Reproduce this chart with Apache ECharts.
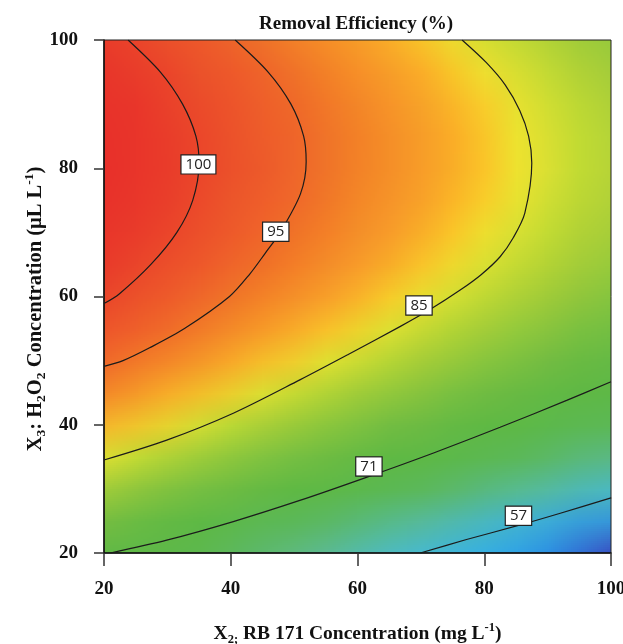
<!DOCTYPE html>
<html>
<head>
<meta charset="utf-8">
<script src="https://cdn.jsdelivr.net/npm/echarts@6/dist/echarts.min.js"></script>
<style>
  html, body { margin: 0; padding: 0; background: #fff; }
  #stage { position: relative; width: 623px; height: 644px; overflow: hidden; }
  #surfaceClip { position: absolute; overflow: hidden; }
  #surface { position: absolute; transform-origin: 0 0; }
  #chart { position: absolute; left: 0; top: 0; width: 623px; height: 644px; }
</style>
</head>
<body>
<div id="stage">
  <div id="surfaceClip"><div id="surface"></div></div>
  <div id="chart"></div>
</div>
<script>
  // X2: RB 171 concentration (mg/L), X3: H2O2 concentration (uL/L)
  const x2Levels = [20, 25, 30, 35, 40, 45, 50, 55, 60, 65, 70, 75, 80, 85, 90, 95, 100];
  const x3Levels = [20, 25, 30, 35, 40, 45, 50, 55, 60, 65, 70, 75, 80, 85, 90, 95, 100];
  const axisTicks = [20, 40, 60, 80, 100];

  // removal efficiency (%), one row per X3 level (bottom -> top)
  const efficiency = [
    [70.9, 69.4, 67.9, 66.4, 64.9, 63.4, 62.0, 60.5, 59.1, 57.7, 56.3, 54.9, 53.5, 52.1, 50.8, 49.4, 48.1],
    [76.2, 74.7, 73.2, 71.7, 70.2, 68.7, 67.3, 65.8, 64.4, 63.0, 61.6, 60.2, 58.8, 57.4, 56.1, 54.7, 53.4],
    [81.0, 79.5, 78.0, 76.5, 75.0, 73.5, 72.1, 70.6, 69.2, 67.8, 66.4, 65.0, 63.6, 62.2, 60.9, 59.5, 58.2],
    [85.3, 83.8, 82.3, 80.8, 79.3, 77.8, 76.4, 74.9, 73.5, 72.1, 70.7, 69.3, 67.9, 66.5, 65.2, 63.8, 62.5],
    [89.2, 87.7, 86.2, 84.7, 83.2, 81.7, 80.3, 78.8, 77.4, 76.0, 74.6, 73.2, 71.8, 70.4, 69.1, 67.7, 66.4],
    [92.7, 91.2, 89.7, 88.2, 86.7, 85.2, 83.8, 82.3, 80.9, 79.5, 78.1, 76.7, 75.3, 73.9, 72.6, 71.2, 69.9],
    [95.7, 94.2, 92.7, 91.2, 89.7, 88.2, 86.8, 85.3, 83.9, 82.5, 81.1, 79.7, 78.3, 76.9, 75.6, 74.2, 72.9],
    [98.2, 96.7, 95.2, 93.7, 92.2, 90.7, 89.3, 87.8, 86.4, 85.0, 83.6, 82.2, 80.8, 79.4, 78.1, 76.7, 75.4],
    [100.3, 98.8, 97.3, 95.8, 94.3, 92.8, 91.4, 89.9, 88.5, 87.1, 85.7, 84.3, 82.9, 81.5, 80.2, 78.8, 77.5],
    [102.0, 100.5, 99.0, 97.5, 96.0, 94.5, 93.1, 91.6, 90.2, 88.8, 87.4, 86.0, 84.6, 83.2, 81.9, 80.5, 79.2],
    [103.1, 101.6, 100.1, 98.6, 97.1, 95.6, 94.2, 92.7, 91.3, 89.9, 88.5, 87.1, 85.7, 84.3, 83.0, 81.6, 80.3],
    [103.9, 102.4, 100.9, 99.4, 97.9, 96.4, 95.0, 93.5, 92.1, 90.7, 89.3, 87.9, 86.5, 85.1, 83.8, 82.4, 81.1],
    [104.2, 102.7, 101.2, 99.7, 98.2, 96.7, 95.3, 93.8, 92.4, 91.0, 89.6, 88.2, 86.8, 85.4, 84.1, 82.7, 81.4],
    [104.0, 102.5, 101.0, 99.5, 98.0, 96.5, 95.1, 93.6, 92.2, 90.8, 89.4, 88.0, 86.6, 85.2, 83.9, 82.5, 81.2],
    [103.4, 101.9, 100.4, 98.9, 97.4, 95.9, 94.5, 93.0, 91.6, 90.2, 88.8, 87.4, 86.0, 84.6, 83.3, 81.9, 80.6],
    [102.4, 100.9, 99.4, 97.9, 96.4, 94.9, 93.5, 92.0, 90.6, 89.2, 87.8, 86.4, 85.0, 83.6, 82.3, 80.9, 79.6],
    [100.9, 99.4, 97.9, 96.4, 94.9, 93.4, 92.0, 90.5, 89.1, 87.7, 86.3, 84.9, 83.5, 82.1, 80.8, 79.4, 78.1]
  ];

  // contour lines [X2, X3]
  const contour100 = [[23.8, 100], [28.9, 95], [32.4, 90], [34.5, 85], [35.0, 80.8], [34.0, 75], [31.5, 70], [27.4, 65], [22.4, 60.4], [20, 58.9]];
  const contour95 = [[40.7, 100], [45.9, 95], [49.5, 90], [51.5, 85], [51.9, 81], [51.0, 76], [47.8, 70], [45.4, 66.7], [43.0, 63.5], [39.8, 60], [32.7, 55], [27.2, 52], [23.0, 50], [20, 49.1]];
  const contour85 = [[76.5, 100], [80.3, 96.5], [83.3, 93], [85.6, 89], [87.0, 85], [87.5, 80.8], [86.4, 73.0], [84.6, 69.2], [82.5, 66.2], [79.5, 63.4], [76.2, 61.0], [71.5, 58.0], [66.7, 55.3], [58.6, 51.0], [50.9, 47.0], [40.4, 41.8], [29.9, 37.6], [20, 34.5]];
  const contour71 = [[21.0, 20], [29.9, 22.0], [40.4, 24.9], [50.9, 28.2], [61.4, 31.8], [72.0, 35.6], [82.5, 39.6], [93.0, 43.8], [100, 46.7]];
  const contour57 = [[69.9, 20], [77.2, 22.1], [85.4, 24.3], [92.0, 26.2], [100, 28.6]];
  const contourLabels = [[34.9, 80.6, '100'], [47.1, 70.1, '95'], [69.7, 58.6, '85'], [61.8, 33.5, '71'], [85.4, 25.8, '57']];

  // colour ramp (blue -> green -> yellow -> red)
  const colorStops = [
    [48, '#3a4cc0'], [50, '#2a8fe6'], [53, '#36b1e4'], [57, '#4dbcc8'], [61, '#5fba84'], [66, '#5db84c'],
    [72, '#62b945'], [77, '#86c440'], [80.5, '#acd03a'], [83, '#cade35'], [84.6, '#e8e432'], [85.4, '#f6e631'],
    [86.4, '#fcc22a'], [89, '#f8a02c'], [91.5, '#f4882b'], [95, '#ef652c'], [98, '#ec522c'], [101, '#e93d2d'],
    [104.5, '#e8302c']
  ];
  const rampMin = 48, rampMax = 104.5;

  function hexToRgb(h) {
    return [parseInt(h.slice(1, 3), 16), parseInt(h.slice(3, 5), 16), parseInt(h.slice(5, 7), 16)];
  }
  function rampColor(v) {
    for (let i = 1; i < colorStops.length; i++) {
      if (v <= colorStops[i][0]) {
        const a = colorStops[i - 1], b = colorStops[i];
        const t = (v - a[0]) / (b[0] - a[0]);
        const ca = hexToRgb(a[1]), cb = hexToRgb(b[1]);
        return 'rgb(' + ca.map((c, k) => Math.round(c + (cb[k] - c) * t)).join(',') + ')';
      }
    }
    return colorStops[colorStops.length - 1][1];
  }
  const rampColors = [];
  for (let v = rampMin; v <= rampMax + 1e-9; v += 0.25) rampColors.push(rampColor(v));

  // plot box in page pixels
  const plot = { left: 104, top: 40, right: 611, bottom: 553 };
  const plotW = plot.right - plot.left, plotH = plot.bottom - plot.top;
  const cellW = plotW / (x2Levels.length - 1), cellH = plotH / (x3Levels.length - 1);

  const clip = document.getElementById('surfaceClip');
  clip.style.left = plot.left + 'px';
  clip.style.top = plot.top + 'px';
  clip.style.width = plotW + 'px';
  clip.style.height = plotH + 'px';

  // the surface is drawn one pixel per grid cell, then stretched by the browser
  // so that each pixel centre sits on its grid point
  const surfaceEl = document.getElementById('surface');
  surfaceEl.style.width = x2Levels.length + 'px';
  surfaceEl.style.height = x3Levels.length + 'px';
  surfaceEl.style.left = (-cellW / 2) + 'px';
  surfaceEl.style.top = (-cellH / 2) + 'px';
  surfaceEl.style.transform = 'scale(' + cellW + ',' + cellH + ')';

  // top row first so that each row keeps its own pixel
  const cells = [];
  for (let j = efficiency.length - 1; j >= 0; j--) {
    efficiency[j].forEach((v, i) => cells.push([i, j, v]));
  }

  const surface = echarts.init(surfaceEl, null, { devicePixelRatio: 1 });
  surface.setOption({
    animation: false,
    grid: { left: 0, right: 0, top: 0, bottom: 0, outerBoundsMode: 'none' },
    xAxis: { type: 'category', data: x2Levels.map(String), show: false },
    yAxis: { type: 'category', data: x3Levels.map(String), show: false },
    visualMap: {
      show: false, type: 'continuous', min: rampMin, max: rampMax, dimension: 2, seriesIndex: 0,
      inRange: { color: rampColors }
    },
    series: [{
      type: 'heatmap',
      data: cells,
      silent: true,
      itemStyle: { borderWidth: 0 }
    }]
  });

  const serif = 'Liberation Serif';
  const ink = '#111';
  function nameRich(size) {
    return {
      b: { fontFamily: serif, fontWeight: 'bold', fontSize: size, color: ink, lineHeight: size + 6 },
      s: { fontFamily: serif, fontWeight: 'bold', fontSize: size - 7, color: ink, verticalAlign: 'bottom' },
      p: { fontFamily: serif, fontWeight: 'bold', fontSize: size - 7, color: ink, verticalAlign: 'top' }
    };
  }

  function contourSeries(data) {
    return {
      type: 'line',
      data: data,
      smooth: 0.3,
      symbol: 'none',
      silent: true,
      z: 3,
      lineStyle: { color: '#1b1b1b', width: 1.2 }
    };
  }

  const chart = echarts.init(document.getElementById('chart'));
  chart.setOption({
    animation: false,
    title: {
      text: 'Removal Efficiency (%)',
      left: 254,
      top: 10,
      textStyle: { fontFamily: serif, fontWeight: 'bold', fontSize: 19, color: ink }
    },
    grid: {
      left: plot.left, top: plot.top, right: 623 - plot.right, bottom: 644 - plot.bottom,
      outerBoundsMode: 'none', containLabel: false,
      show: true, borderColor: '#222', borderWidth: 1
    },
    xAxis: {
      type: 'value',
      min: axisTicks[0], max: axisTicks[axisTicks.length - 1], interval: 20,
      name: '{b|X}{s|2;}{b| RB 171 Concentration (mg L}{p|-1}{b|)}',
      nameLocation: 'middle',
      nameGap: 68,
      nameMoveOverlap: false,
      nameTextStyle: { rich: nameRich(19.5) },
      axisLine: { lineStyle: { color: ink, width: 1.5 } },
      axisTick: { length: 13, lineStyle: { color: '#333', width: 1.5 } },
      axisLabel: { margin: 27, fontFamily: serif, fontWeight: 'bold', fontSize: 19, color: ink },
      splitLine: { show: false }
    },
    yAxis: {
      type: 'value',
      min: axisTicks[0], max: axisTicks[axisTicks.length - 1], interval: 20,
      name: '{b|X}{s|3}{b|: H}{s|2}{b|O}{s|2}{b| Concentration (µL L}{p|-1}{b|)}',
      nameLocation: 'middle',
      nameRotate: 90,
      nameGap: 55,
      nameMoveOverlap: false,
      nameTextStyle: { padding: [0, 25, 0, 0], rich: nameRich(20.5) },
      axisLine: { lineStyle: { color: ink, width: 1.5 } },
      axisTick: { length: 10, lineStyle: { color: '#333', width: 1.5 } },
      axisLabel: { margin: 26, fontFamily: serif, fontWeight: 'bold', fontSize: 19, color: ink },
      splitLine: { show: false }
    },
    series: [
      contourSeries(contour100),
      contourSeries(contour95),
      contourSeries(contour85),
      contourSeries(contour71),
      contourSeries(contour57),
      {
        type: 'scatter',
        data: contourLabels,
        symbolSize: 1,
        silent: true,
        z: 5,
        itemStyle: { color: '#fff', opacity: 1 },
        label: {
          show: true,
          position: 'inside',
          formatter: (p) => p.value[2],
          fontFamily: 'Open Sans',
          fontSize: 15,
          color: '#222',
          backgroundColor: '#fff',
          borderColor: '#222',
          borderWidth: 1.2,
          padding: [2, 4, 1, 4]
        }
      }
    ]
  });
</script>
</body>
</html>
